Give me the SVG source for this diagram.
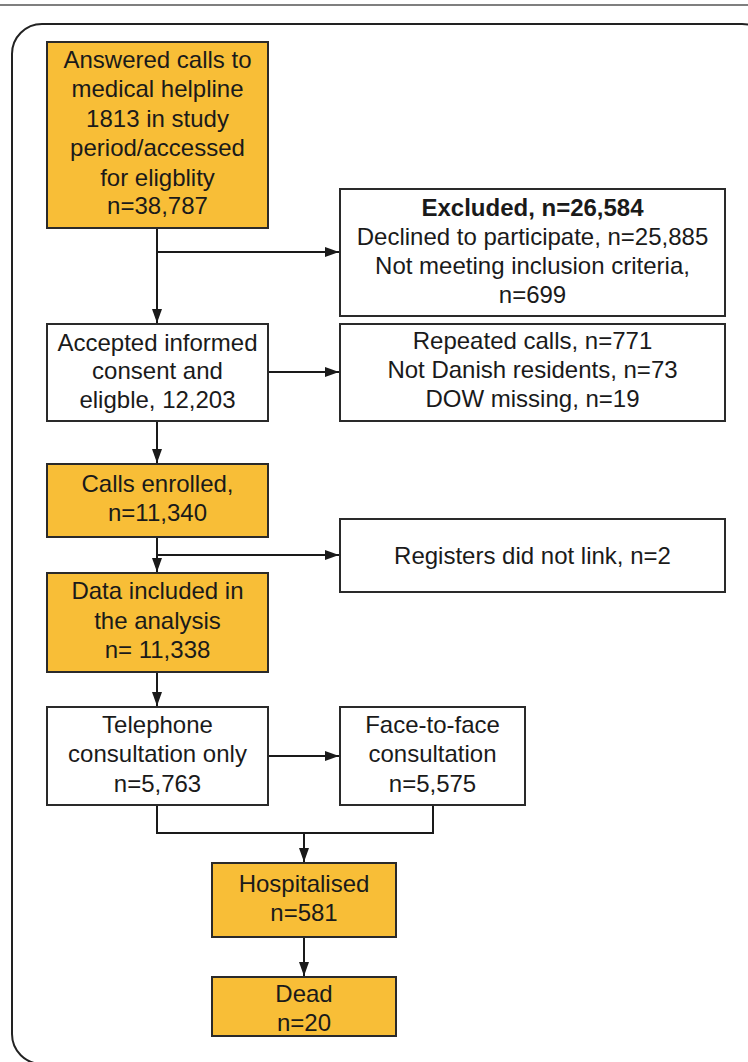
<svg xmlns="http://www.w3.org/2000/svg" width="748" height="1062" viewBox="0 0 748 1062">
<style>
.box{stroke:#2a2a2a;stroke-width:2;}
.o{fill:#F8BE37;}
.w{fill:#ffffff;}
text{font-family:"Liberation Sans",Arial,sans-serif;font-size:24px;fill:#1a1a1a;text-anchor:middle;}
.b{font-weight:bold;}
.c{fill:none;stroke:#1a1a1a;stroke-width:2;}
</style>
<defs>
<marker id="ah" viewBox="0 0 14 10" refX="14" refY="5" markerWidth="14" markerHeight="10" markerUnits="userSpaceOnUse" orient="auto">
<path d="M0,0 L14,5 L0,10 Z" fill="#1a1a1a"/>
</marker>
</defs>
<rect width="748" height="1062" fill="#ffffff"/>
<line x1="0" y1="5" x2="748" y2="5" stroke="#555" stroke-width="1.5"/>
<rect x="12" y="24" width="760" height="1040" rx="30" ry="30" fill="none" stroke="#222" stroke-width="2"/>

<g id="connectors">
<line class="c" x1="157" y1="228" x2="157" y2="323" marker-end="url(#ah)"/>
<line class="c" x1="157" y1="252" x2="339" y2="252" marker-end="url(#ah)"/>
<line class="c" x1="268" y1="372" x2="339" y2="372" marker-end="url(#ah)"/>
<line class="c" x1="157" y1="421" x2="157" y2="463" marker-end="url(#ah)"/>
<line class="c" x1="157" y1="537" x2="157" y2="572" marker-end="url(#ah)"/>
<line class="c" x1="157" y1="555" x2="339" y2="555" marker-end="url(#ah)"/>
<line class="c" x1="157" y1="672" x2="157" y2="706" marker-end="url(#ah)"/>
<line class="c" x1="268" y1="756" x2="339" y2="756" marker-end="url(#ah)"/>
<polyline class="c" points="157,805 157,833 433,833 433,805"/>
<line class="c" x1="304" y1="833" x2="304" y2="862" marker-end="url(#ah)"/>
<line class="c" x1="304" y1="937" x2="304" y2="976" marker-end="url(#ah)"/>
</g>

<g id="n_answered">
<rect class="box o" x="47" y="42" width="221" height="186"/>
<text x="157.5" y="67.5">Answered calls to</text>
<text x="157.5" y="97">medical helpline</text>
<text x="157.5" y="126.5">1813 in study</text>
<text x="157.5" y="156">period/accessed</text>
<text x="157.5" y="185.5">for eligblity</text>
<text x="157.5" y="214">n=38,787</text>
</g>

<g id="n_excluded">
<rect class="box w" x="340" y="189" width="385" height="127"/>
<text class="b" x="532.5" y="216">Excluded, n=26,584</text>
<text x="532.5" y="245">Declined to participate, n=25,885</text>
<text x="532.5" y="274">Not meeting inclusion criteria,</text>
<text x="532.5" y="303">n=699</text>
</g>

<g id="n_accepted">
<rect class="box w" x="47" y="324" width="221" height="97"/>
<text x="157.5" y="350.5">Accepted informed</text>
<text x="157.5" y="379">consent and</text>
<text x="157.5" y="408">eligble, 12,203</text>
</g>

<g id="n_repeated">
<rect class="box w" x="340" y="324" width="385" height="97"/>
<text x="532.5" y="349">Repeated calls, n=771</text>
<text x="532.5" y="378">Not Danish residents, n=73</text>
<text x="532.5" y="407">DOW missing, n=19</text>
</g>

<g id="n_enrolled">
<rect class="box o" x="47" y="464" width="221" height="73"/>
<text x="157.5" y="491.5">Calls enrolled,</text>
<text x="157.5" y="520.5">n=11,340</text>
</g>

<g id="n_registers">
<rect class="box w" x="340" y="519" width="385" height="73"/>
<text x="532.5" y="563.5">Registers did not link, n=2</text>
</g>

<g id="n_data">
<rect class="box o" x="47" y="573" width="221" height="99"/>
<text x="157.5" y="599">Data included in</text>
<text x="157.5" y="628.5">the analysis</text>
<text x="157.5" y="658">n= 11,338</text>
</g>

<g id="n_telephone">
<rect class="box w" x="47" y="707" width="221" height="98"/>
<text x="157.5" y="732.5">Telephone</text>
<text x="157.5" y="762">consultation only</text>
<text x="157.5" y="791.5">n=5,763</text>
</g>

<g id="n_face">
<rect class="box w" x="340" y="707" width="185" height="98"/>
<text x="432.5" y="732.5">Face-to-face</text>
<text x="432.5" y="762">consultation</text>
<text x="432.5" y="791.5">n=5,575</text>
</g>

<g id="n_hospitalised">
<rect class="box o" x="212" y="863" width="184" height="74"/>
<text x="304" y="891.5">Hospitalised</text>
<text x="304" y="920.5">n=581</text>
</g>

<g id="n_dead">
<rect class="box o" x="212" y="977" width="184" height="59"/>
<text x="304" y="1001.5">Dead</text>
<text x="304" y="1031">n=20</text>
</g>
</svg>
